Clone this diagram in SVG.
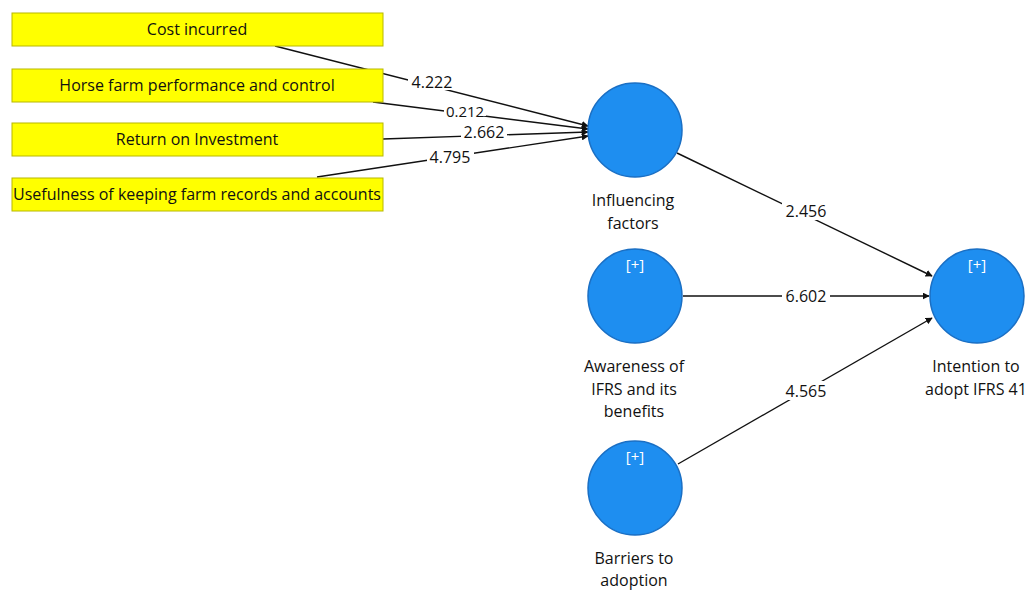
<svg xmlns="http://www.w3.org/2000/svg" width="1027" height="590" viewBox="0 0 1027 590">
<style>
text{font-family:"Open Sans","Noto Sans","Liberation Sans",sans-serif;fill:#111}
.box{fill:#ffff00;stroke:#b8b800;stroke-width:1}
.bt{font-size:16px;text-anchor:middle}
.lv{fill:#1e8ef0;stroke:#1a6fc4;stroke-width:1.5}
.nl{font-size:16px;text-anchor:middle}
.plus{font-size:15px;fill:#fff;text-anchor:middle}
.e{stroke:#111;stroke-width:1.4;fill:none;marker-end:url(#ah)}
.el{font-size:16px;text-anchor:middle}
.bg{fill:#fff}
</style>
<defs>
<marker id="ah" viewBox="0 0 10 10" refX="9" refY="5" markerWidth="7" markerHeight="7" orient="auto" markerUnits="userSpaceOnUse"><path d="M0,0 L10,5 L0,10 z" fill="#111"/></marker>
</defs>
<rect width="1027" height="590" fill="#fff"/>
<g id="connectors">
<line class="e" x1="275" y1="46" x2="588" y2="126"/>
<line class="e" x1="373" y1="102" x2="588" y2="129"/>
<line class="e" x1="383" y1="139" x2="588" y2="132"/>
<line class="e" x1="317" y1="177" x2="588" y2="136"/>
<line class="e" x1="677" y1="153" x2="932" y2="276"/>
<line class="e" x1="683" y1="296" x2="929" y2="296"/>
<line class="e" x1="678" y1="464" x2="932" y2="318"/>
<rect class="bg" x="408" y="73" width="48" height="17"/>
<text class="el" x="432" y="88">4.222</text>
<rect class="bg" x="444" y="106" width="42" height="10"/>
<text class="el" x="465" y="117" style="font-size:15px">0.212</text>
<rect class="bg" x="461" y="125" width="46" height="16"/>
<text class="el" x="484" y="138">2.662</text>
<rect class="bg" x="427" y="148" width="47" height="17"/>
<text class="el" x="450" y="163">4.795</text>
<rect class="bg" x="782" y="201" width="48" height="19"/>
<text class="el" x="806" y="217">2.456</text>
<rect class="bg" x="782" y="288" width="48" height="16"/>
<text class="el" x="806" y="302">6.602</text>
<rect class="bg" x="782" y="381" width="48" height="19"/>
<text class="el" x="806" y="397">4.565</text>
</g>
<g id="cost-incurred"><rect class="box" x="12" y="13" width="371" height="33"/><text class="bt" x="197" y="35">Cost incurred</text></g>
<g id="horse-farm"><rect class="box" x="12" y="69" width="371" height="33"/><text class="bt" x="197" y="91">Horse farm performance and control</text></g>
<g id="roi"><rect class="box" x="12" y="123" width="371" height="33"/><text class="bt" x="197" y="145">Return on Investment</text></g>
<g id="usefulness"><rect class="box" x="12" y="178" width="371" height="33"/><text class="bt" x="197" y="200" textLength="368" lengthAdjust="spacingAndGlyphs">Usefulness of keeping farm records and accounts</text></g>
<g id="influencing-factors"><circle class="lv" cx="635" cy="130" r="47"/><text class="nl" x="633" y="206">Influencing</text><text class="nl" x="633" y="229">factors</text></g>
<g id="awareness"><circle class="lv" cx="635" cy="296" r="47"/><text class="plus" x="635" y="270">[+]</text><text class="nl" x="634" y="372">Awareness of</text><text class="nl" x="634" y="395">IFRS and its</text><text class="nl" x="634" y="417">benefits</text></g>
<g id="barriers"><circle class="lv" cx="635" cy="488" r="47"/><text class="plus" x="635" y="462">[+]</text><text class="nl" x="634" y="564">Barriers to</text><text class="nl" x="634" y="586">adoption</text></g>
<g id="intention"><circle class="lv" cx="977" cy="296" r="47"/><text class="plus" x="977" y="270">[+]</text><text class="nl" x="976" y="372">Intention to</text><text class="nl" x="976" y="395">adopt IFRS 41</text></g>
</svg>
